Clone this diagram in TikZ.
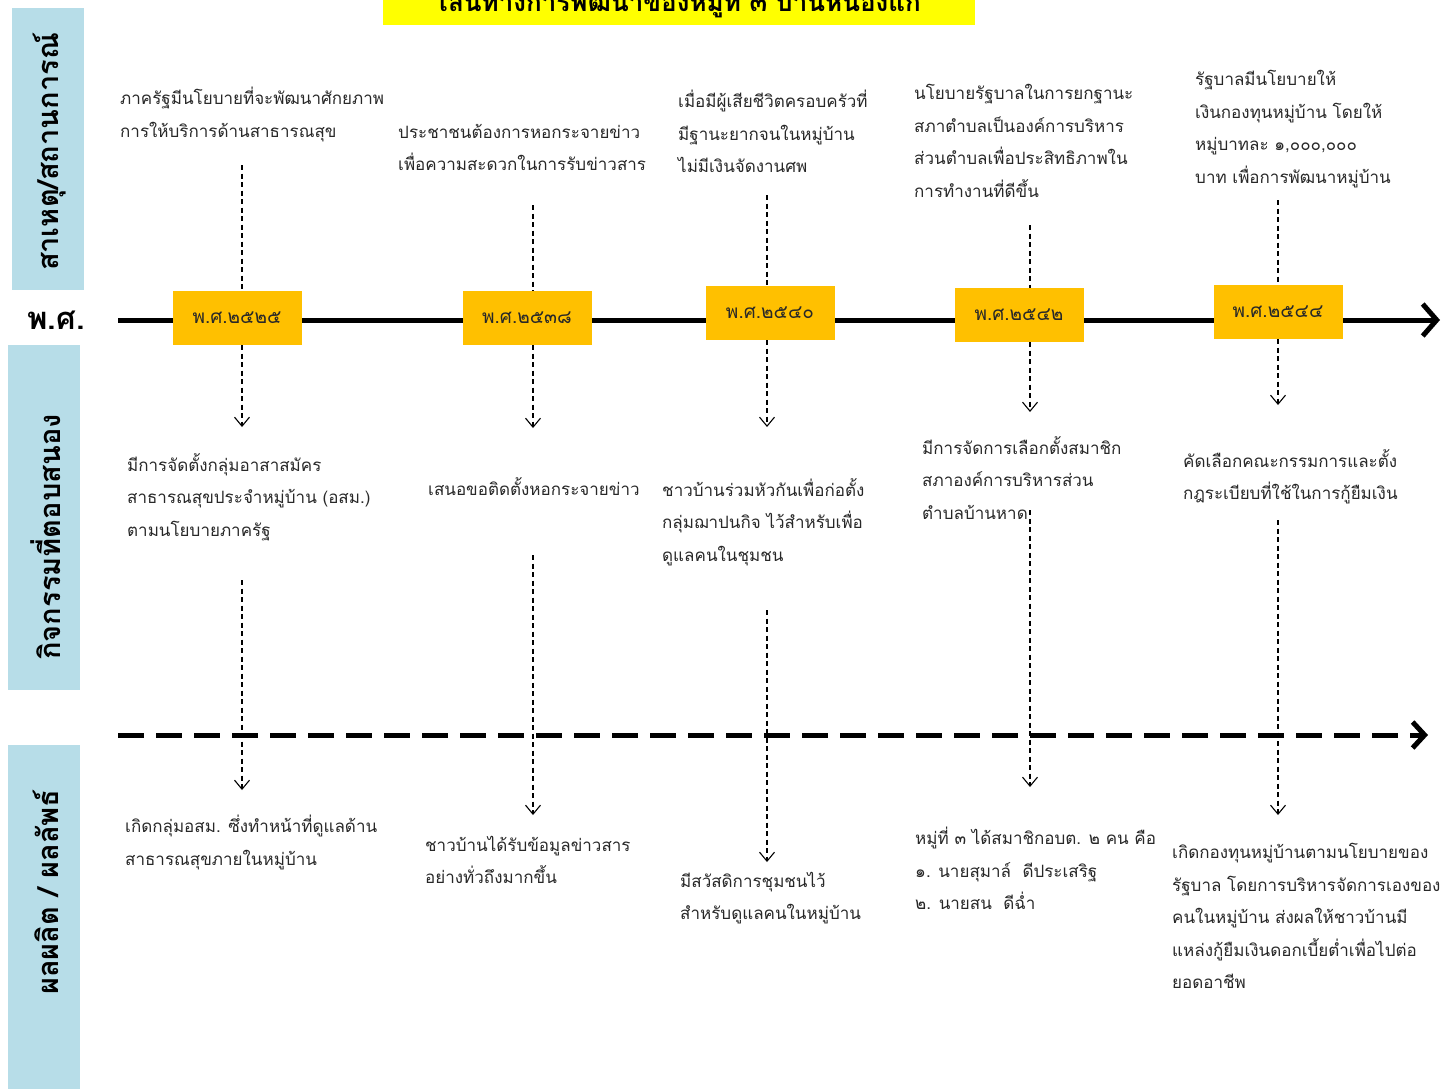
\documentclass[tikz,border=0pt]{standalone}
\usepackage{fontspec}
\setmainfont[Script=Thai]{Loma}
\usetikzlibrary{arrows.meta}
\definecolor{lblue}{RGB}{183,221,232}
\definecolor{yorange}{RGB}{255,192,0}
\definecolor{tyellow}{RGB}{255,255,0}
\definecolor{txtgray}{RGB}{40,40,40}
\tikzset{
  txt/.style={anchor=north west, inner sep=0pt, align=left, text=txtgray, font=\fontsize{17}{32.5}\selectfont},
  yrbox/.style={fill=yorange, minimum width=129pt, minimum height=54pt, inner sep=0pt, text=txtgray, font=\fontsize{19}{20}\selectfont},
  sidebox/.style={fill=lblue, inner sep=0pt},
  sidelbl/.style={rotate=90, inner sep=0pt, font=\fontsize{29}{30}\bfseries\selectfont},
  vd/.style={line width=1.1pt, dash pattern=on 5pt off 3.5pt},
  vda/.style={vd, -{Straight Barb[length=9pt,width=15pt,line width=1.1pt]}},
  mainline/.style={line width=5pt, -{Straight Barb[length=14pt,width=32pt,line width=5pt]}},
  dashline/.style={line width=5pt, dash pattern=on 26pt off 12pt, -{Straight Barb[length=12pt,width=26pt,line width=5pt]}}
}
\begin{document}
\begin{tikzpicture}[x=1pt,y=-1pt]
\useasboundingbox (0,0) rectangle (1445,1088);
% title
\node[fill=tyellow, minimum width=592pt, minimum height=25pt, inner sep=0pt, anchor=north west] (title) at (383,0) {};
\node[anchor=base, inner sep=0pt, font=\fontsize{26}{28}\bfseries\selectfont] (titletxt) at (680,11) {เส้นทางการพัฒนาของหมู่ที่ ๓ บ้านหนองแก};
% side boxes
\node[sidebox, minimum width=72pt, minimum height=282pt, anchor=north west] (s1) at (12,8) {};
\node[sidelbl] (s1t) at (50,152) {สาเหตุ/สถานการณ์};
\node[sidebox, minimum width=72pt, minimum height=345pt, anchor=north west] (s2) at (8,345) {};
\node[sidelbl] (s2t) at (46,537) {กิจกรรมที่ตอบสนอง};
\node[sidebox, minimum width=72pt, minimum height=345pt, anchor=north west] (s3) at (8,745) {};
\node[sidelbl] (s3t) at (46,892) {ผลผลิต / ผลลัพธ์};
\node[inner sep=0pt, font=\fontsize{31}{32}\bfseries\selectfont] (pslbl) at (56,320) {พ.ศ.};
% timelines
\coordinate (tlstart) at (118,320);
\coordinate (tlend) at (1440,320);
\draw[mainline] (tlstart) -- (tlend);
\coordinate (dlstart) at (118,735);
\coordinate (dlend) at (1428,735);
\draw[dashline] (dlstart) -- (dlend);
% year boxes
\node[yrbox] (y1) at (237,318) {พ.ศ.๒๕๒๕};
\node[yrbox] (y2) at (527,318) {พ.ศ.๒๕๓๘};
\node[yrbox] (y3) at (770,313) {พ.ศ.๒๕๔๐};
\node[yrbox] (y4) at (1019,315) {พ.ศ.๒๕๔๒};
\node[yrbox] (y5) at (1278,312) {พ.ศ.๒๕๔๔};
% top row texts
\node[txt] (t1) at (120,87) {ภาครัฐมีนโยบายที่จะพัฒนาศักยภาพ\\การให้บริการด้านสาธารณสุข};
\node[txt] (t2) at (398,124) {ประชาชนต้องการหอกระจายข่าว\\เพื่อความสะดวกในการรับข่าวสาร};
\node[txt] (t3) at (678,90) {เมื่อมีผู้เสียชีวิตครอบครัวที่\\มีฐานะยากจนในหมู่บ้าน\\ไม่มีเงินจัดงานศพ};
\node[txt] (t4) at (914,84) {นโยบายรัฐบาลในการยกฐานะ\\สภาตำบลเป็นองค์การบริหาร\\ส่วนตำบลเพื่อประสิทธิภาพใน\\การทำงานที่ดีขึ้น};
\node[txt] (t5) at (1195,70) {รัฐบาลมีนโยบายให้\\เงินกองทุนหมู่บ้าน โดยให้\\หมู่บาทละ ๑,๐๐๐,๐๐๐\\บาท เพื่อการพัฒนาหมู่บ้าน};
% middle row texts
\node[txt] (m1) at (127,453) {มีการจัดตั้งกลุ่มอาสาสมัคร\\สาธารณสุขประจำหมู่บ้าน (อสม.)\\ตามนโยบายภาครัฐ};
\node[txt] (m2) at (428,477) {เสนอขอติดตั้งหอกระจายข่าว};
\node[txt] (m3) at (662,478) {ชาวบ้านร่วมหัวกันเพื่อก่อตั้ง\\กลุ่มฌาปนกิจ ไว้สำหรับเพื่อ\\ดูแลคนในชุมชน};
\node[txt] (m4) at (922,436) {มีการจัดการเลือกตั้งสมาชิก\\สภาองค์การบริหารส่วน\\ตำบลบ้านหาด};
\node[txt] (m5) at (1183,449) {คัดเลือกคณะกรรมการและตั้ง\\กฎระเบียบที่ใช้ในการกู้ยืมเงิน};
% bottom row texts
\node[txt] (b1) at (125,815) {เกิดกลุ่มอสม. ซึ่งทำหน้าที่ดูแลด้าน\\สาธารณสุขภายในหมู่บ้าน};
\node[txt] (b2) at (425,836) {ชาวบ้านได้รับข้อมูลข่าวสาร\\อย่างทั่วถึงมากขึ้น};
\node[txt] (b3) at (680,872) {มีสวัสดิการชุมชนไว้\\สำหรับดูแลคนในหมู่บ้าน};
\node[txt] (b4) at (915,827) {หมู่ที่ ๓ ได้สมาชิกอบต. ๒ คน คือ\\๑. นายสุมาล์\ \ ดีประเสริฐ\\๒. นายสน\ \ ดีฉ่ำ};
\node[txt] (b5) at (1172,843) {เกิดกองทุนหมู่บ้านตามนโยบายของ\\รัฐบาล โดยการบริหารจัดการเองของ\\คนในหมู่บ้าน ส่งผลให้ชาวบ้านมี\\แหล่งกู้ยืมเงินดอกเบี้ยต่ำเพื่อไปต่อ\\ยอดอาชีพ};
% vertical connectors
\coordinate (a1) at (242,165); \coordinate (c1) at (242,427);
\coordinate (d1) at (242,580); \coordinate (e1) at (242,790);
\coordinate (a2) at (533,205); \coordinate (c2) at (533,428);
\coordinate (d2) at (533,555); \coordinate (e2) at (533,815);
\coordinate (a3) at (767,195); \coordinate (c3) at (767,427);
\coordinate (d3) at (767,610); \coordinate (e3) at (767,862);
\coordinate (a4) at (1030,225); \coordinate (c4) at (1030,412);
\coordinate (d4) at (1030,510); \coordinate (e4) at (1030,787);
\coordinate (a5) at (1278,200); \coordinate (c5) at (1278,405);
\coordinate (d5) at (1278,520); \coordinate (e5) at (1278,815);
\foreach \i in {1,...,5}{
  \draw[vd] (a\i) -- (a\i |- y\i.north);
  \draw[vda] (a\i |- y\i.south) -- (c\i);
  \draw[vda] (d\i) -- (e\i);
}
\end{tikzpicture}
\end{document}
